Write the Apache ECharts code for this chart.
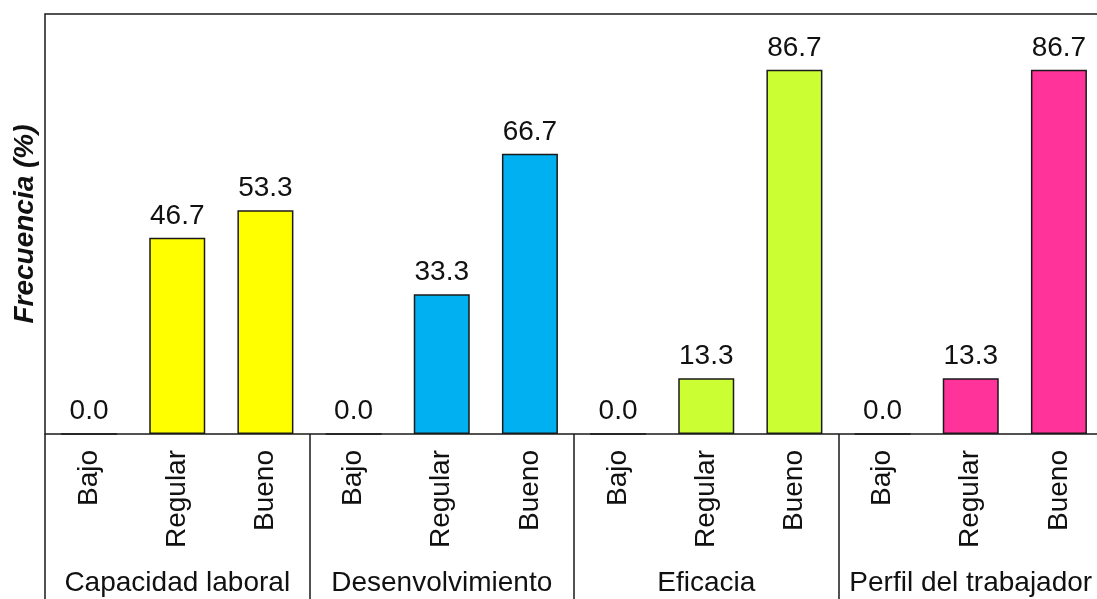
<!DOCTYPE html>
<html>
<head>
<meta charset="utf-8">
<script src="https://cdn.jsdelivr.net/npm/echarts@6/dist/echarts.min.js"></script>
<style>
  html, body { margin: 0; padding: 0; background: #fff; overflow: hidden; }
  /* canvas a bit wider than the window: the original plot is cut off on the right */
  #chart { width: 1103px; height: 599px; }
</style>
</head>
<body>
<div id="chart"></div>
<script>
const groups = ['Capacidad laboral', 'Desenvolvimiento', 'Eficacia', 'Perfil del trabajador'];
const levels = ['Bajo', 'Regular', 'Bueno'];
const capacidadLaboral = [0.0, 46.7, 53.3];
const desenvolvimiento = [0.0, 33.3, 66.7];
const eficacia = [0.0, 13.3, 86.7];
const perfilTrabajador = [0.0, 13.3, 86.7];

const groupColors = ['#ffff00', '#00b0f0', '#ccff33', '#ff3399'];
const font = "'Liberation Sans', Arial, sans-serif";

const values = [...capacidadLaboral, ...desenvolvimiento, ...eficacia, ...perfilTrabajador];
const categories = groups.flatMap((g) => levels.map((l) => g + '|' + l));

const chart = echarts.init(document.getElementById('chart'));
chart.setOption({
  animation: false,
  backgroundColor: '#fff',
  grid: {
    left: 45, right: 0, top: 14, bottom: 165,
    outerBoundsMode: 'none',
    show: true, borderColor: '#1a1a1a', borderWidth: 1.5, backgroundColor: 'transparent',
  },
  xAxis: [
    {
      type: 'category',
      data: categories,
      axisLine: { show: false },
      axisTick: { show: false },
      axisLabel: {
        interval: 0,
        rotate: 90,
        margin: 16,
        color: '#111',
        fontFamily: font,
        fontSize: 28,
        formatter: (v) => v.split('|')[1],
      },
    },
    {
      type: 'category',
      data: groups,
      position: 'bottom',
      axisLine: { show: false },
      axisTick: { show: true, length: 166, lineStyle: { color: '#1a1a1a', width: 1.5 } },
      axisLabel: {
        interval: 0,
        margin: 135,
        color: '#111',
        fontFamily: font,
        fontSize: 28,
      },
    },
  ],
  yAxis: {
    type: 'value',
    min: 0,
    max: 100,
    axisLine: { show: false },
    axisTick: { show: false },
    axisLabel: { show: false },
    splitLine: { show: false },
    name: 'Frecuencia (%)',
    nameLocation: 'middle',
    nameGap: 6,
    nameTextStyle: {
      color: '#111',
      fontFamily: font,
      fontSize: 28,
      fontWeight: 'bold',
      fontStyle: 'italic',
    },
  },
  series: [
    {
      type: 'bar',
      data: values,
      barWidth: 56,
      itemStyle: {
        borderColor: '#1a1a1a',
        borderWidth: 1.5,
        color: (p) => groupColors[Math.floor(p.dataIndex / levels.length)],
      },
      label: {
        show: true,
        position: 'top',
        distance: 8,
        color: '#111',
        fontFamily: font,
        fontSize: 28,
        formatter: (p) => p.value.toFixed(1),
      },
    },
  ],
});
</script>
</body>
</html>
